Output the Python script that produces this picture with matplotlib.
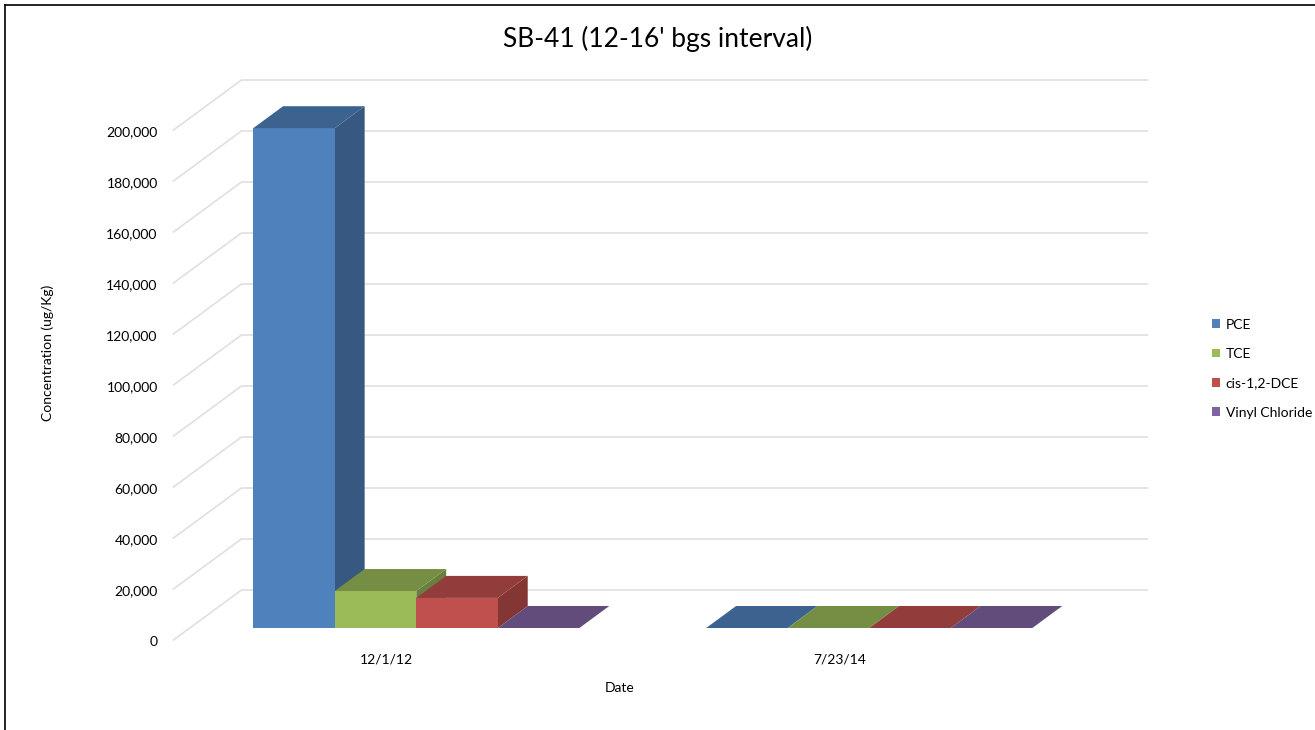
import numpy as np
import matplotlib.pyplot as plt
from matplotlib.patches import Polygon, Rectangle
from matplotlib.lines import Line2D

plt.rcParams['font.family'] = ['Lato', 'DejaVu Sans']

dates = ['12/1/12', '7/23/14']
series = ['PCE', 'TCE', 'cis-1,2-DCE', 'Vinyl Chloride']
pce = [196000, 0]
tce = [14500, 0]
dce = [11800, 0]
vinyl = [0, 0]
colors = ['#4F81BD', '#9BBB59', '#C0504D', '#8064A2']
yticks = np.arange(0, 200001, 20000)

# oblique "3d" layout, Excel style
DX = 0.15        # depth shift along category axis (per full depth)
DV = 19600       # depth shift along value axis (per full depth)
BAR_W = 0.18
D0, D1 = 0.24, 0.68   # bar depth range
XL, XR = -0.5, 1.5


def proj(x, v, d):
    return x + d * DX, v + d * DV


def shade(c, f):
    r, g, b = plt.matplotlib.colors.to_rgb(c)
    return (r * f, g * f, b * f)


def bar3d(ax, x0, h, color):
    x1 = x0 + BAR_W
    front = [proj(x0, 0, D0), proj(x1, 0, D0), proj(x1, h, D0), proj(x0, h, D0)]
    top = [proj(x0, h, D0), proj(x1, h, D0), proj(x1, h, D1), proj(x0, h, D1)]
    side = [proj(x1, 0, D0), proj(x1, 0, D1), proj(x1, h, D1), proj(x1, h, D0)]
    ax.add_patch(Polygon(side, closed=True, facecolor=shade(color, 0.68), edgecolor='none'))
    ax.add_patch(Polygon(front, closed=True, facecolor=color, edgecolor='none'))
    ax.add_patch(Polygon(top, closed=True, facecolor=shade(color, 0.76), edgecolor='none'))


fig = plt.figure(figsize=(13.15, 7.30), dpi=100)
ax = fig.add_axes([0, 0, 1, 1])
ax.set_xlim(-0.883, 2.020)
ax.set_ylim(-35300, 250980)
ax.axis('off')

# gridlines: left wall + back wall
for v in yticks:
    xs = [proj(XL, v, 0)[0], proj(XL, v, 1)[0], proj(XR, v, 1)[0]]
    vs = [proj(XL, v, 0)[1], proj(XL, v, 1)[1], proj(XR, v, 1)[1]]
    ax.plot(xs, vs, color='#e0e0e0', lw=1.2, zorder=0)
    ax.text(XL - 0.035, v - 900, f'{v:,}', ha='right', va='center', fontsize=10)

values = [pce, tce, dce, vinyl]
for i in range(len(dates)):
    for k, vals in enumerate(values):
        x0 = i - 2 * BAR_W + k * BAR_W
        bar3d(ax, x0, vals[i], colors[k])
    lx, lv = proj(i - 0.03, 0, 0)
    ax.text(lx, lv - 7500, dates[i], ha='center', va='center', fontsize=10)

fig.text(0.5, 0.947, "SB-41 (12-16' bgs interval)", ha='center', va='center', fontsize=19)
fig.text(0.036, 0.516, 'Concentration (ug/Kg)', rotation=90, ha='center', va='center', fontsize=10)
fig.text(0.471, 0.058, 'Date', ha='center', va='center', fontsize=10)

handles = [Rectangle((0, 0), 1, 1, facecolor=c, edgecolor='none') for c in colors]
fig.legend(handles, series, loc='center left', bbox_to_anchor=(0.912, 0.495), frameon=False,
           fontsize=10, handlelength=0.6, handleheight=0.6, handletextpad=0.4, labelspacing=1.25)

# chart frame (only top and left edges visible in the crop)
fig.add_artist(Line2D([5 / 1315, 1], [1 - 5 / 730, 1 - 5 / 730], color='black', lw=1.2))
fig.add_artist(Line2D([5 / 1315, 5 / 1315], [0, 1 - 5 / 730], color='black', lw=1.2))

fig.savefig('out.png', dpi=100)
